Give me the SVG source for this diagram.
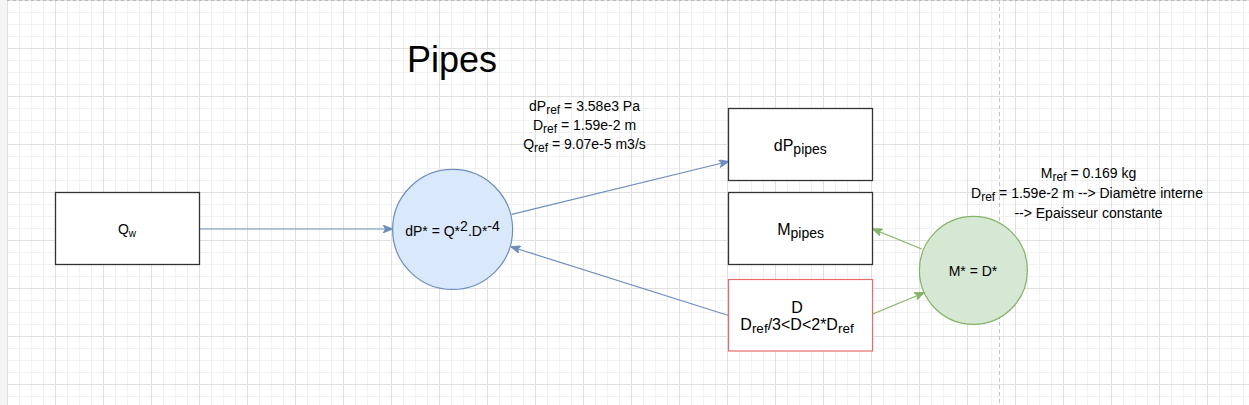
<svg xmlns="http://www.w3.org/2000/svg" width="1249" height="405" viewBox="0 0 1249 405">
  <style>
    text { font-family: "Liberation Sans", Arial, sans-serif; fill: #000; }
    .t14 { font-size: 14px; }
    .t16 { font-size: 16px; }
    .title { font-size: 36px; }
    .box { fill: #ffffff; stroke: #333333; stroke-width: 1.3; }
    .boxred { fill: #ffffff; stroke: #ea6b66; stroke-width: 1.2; }
    .cblue { fill: #dae8fc; stroke: #6c8ebf; stroke-width: 1.2; }
    .cgreen { fill: #d5e8d4; stroke: #82b366; stroke-width: 1.2; }
    .eblue { fill: none; stroke: #6c8ebf; stroke-width: 1.2; marker-end: url(#arrBlue); }
    .egreen { fill: none; stroke: #82b366; stroke-width: 1.2; marker-end: url(#arrGreen); }
  </style>
  <defs>
    <pattern id="grid" x="7" y="0" width="48" height="48" patternUnits="userSpaceOnUse">
      <rect width="48" height="48" fill="#ffffff"/>
      <path d="M12.5 0V48M24.5 0V48M36.5 0V48M0 12.5H48M0 24.5H48M0 36.5H48" stroke="#f1f1f1" stroke-width="1"/>
      <path d="M0.5 0V48M0 0.5H48" stroke="#e0e0e0" stroke-width="1"/>
    </pattern>
    <marker id="arrBlue" viewBox="0 0 10 8" refX="9.5" refY="4" markerWidth="10" markerHeight="8" orient="auto" markerUnits="userSpaceOnUse">
      <path d="M0,0 L10,4 L0,8 L2.5,4 Z" fill="#6c8ebf" stroke="#6c8ebf" stroke-width="0.8" stroke-linejoin="miter"/>
    </marker>
    <marker id="arrGreen" viewBox="0 0 10 8" refX="9.5" refY="4" markerWidth="10" markerHeight="8" orient="auto" markerUnits="userSpaceOnUse">
      <path d="M0,0 L10,4 L0,8 L2.5,4 Z" fill="#82b366" stroke="#82b366" stroke-width="0.8" stroke-linejoin="miter"/>
    </marker>
  </defs>

  <g id="background">
    <rect x="0" y="0" width="1249" height="405" fill="url(#grid)"/>
    <rect x="0" y="0" width="7" height="405" fill="#f4f5f7"/>
    <line x1="7" y1="0.5" x2="1249" y2="0.5" stroke="#b8b8b8" stroke-width="1" stroke-dasharray="3 3"/>
    <line x1="999.5" y1="0" x2="999.5" y2="405" stroke="#c4c4c4" stroke-width="1" stroke-dasharray="4 3"/>
  </g>

  <g id="title">
    <text class="title" x="452" y="72" text-anchor="middle">Pipes</text>
  </g>

  <g id="connectors">
    <path id="e-qw-dp" class="eblue" d="M199.5 229 L392.5 229"/>
    <path id="e-dp-dppipes" class="eblue" d="M511.7 214.3 L728.5 161.5"/>
    <path id="e-d-dp" class="eblue" d="M728.5 315.5 L511 246.8"/>
    <path id="e-m-mpipes" class="egreen" d="M921.7 249 L872.8 229"/>
    <path id="e-d-m" class="egreen" d="M872.8 314 L924 292.7"/>
  </g>

  <g id="label-ref-left">
    <text class="t14" x="584.5" y="110.5" text-anchor="middle">dP<tspan font-size="12" dy="3">ref</tspan><tspan dy="-3"> = 3.58e3 Pa</tspan></text>
    <text class="t14" x="584.5" y="129.8" text-anchor="middle">D<tspan font-size="12" dy="3">ref</tspan><tspan dy="-3"> = 1.59e-2 m</tspan></text>
    <text class="t14" x="584.5" y="149" text-anchor="middle">Q<tspan font-size="12" dy="3">ref</tspan><tspan dy="-3"> = 9.07e-5 m3/s</tspan></text>
  </g>

  <g id="label-ref-right">
    <text class="t14" x="1088.5" y="178.3" text-anchor="middle">M<tspan font-size="12" dy="3">ref</tspan><tspan dy="-3"> = 0.169 kg</tspan></text>
    <text class="t14" x="1087" y="197.8" text-anchor="middle">D<tspan font-size="12" dy="3">ref</tspan><tspan dy="-3"> = 1.59e-2 m --&gt; Diamètre interne</tspan></text>
    <text class="t14" x="1088.5" y="218.3" text-anchor="middle">--&gt; Epaisseur constante</text>
  </g>

  <g id="node-qw">
    <rect class="box" x="55.5" y="192.5" width="144" height="72"/>
    <text class="t14" x="127" y="233.5" text-anchor="middle">Q<tspan font-size="10" dy="3">w</tspan></text>
  </g>

  <g id="node-dpstar">
    <circle class="cblue" cx="452.6" cy="229.4" r="60"/>
    <text class="t14" x="452.5" y="235.5" text-anchor="middle">dP* = Q*<tspan font-size="14" dy="-5">2</tspan><tspan dy="5">.D*</tspan><tspan font-size="14" dy="-5">-4</tspan></text>
  </g>

  <g id="node-dppipes">
    <rect class="box" x="728.5" y="108.5" width="144" height="72"/>
    <text class="t16" x="800.3" y="151" text-anchor="middle">dP<tspan font-size="14" dy="3">pipes</tspan></text>
  </g>

  <g id="node-mpipes">
    <rect class="box" x="728.5" y="192.5" width="144" height="72"/>
    <text class="t16" x="800.6" y="234.5" text-anchor="middle">M<tspan font-size="14" dy="3">pipes</tspan></text>
  </g>

  <g id="node-d">
    <rect class="boxred" x="728.5" y="279.5" width="144" height="71.5"/>
    <text class="t16" x="797" y="312.5" text-anchor="middle">D</text>
    <text class="t16" x="797" y="330" text-anchor="middle">D<tspan font-size="13.5" dy="3">ref</tspan><tspan dy="-3">/3&lt;D&lt;2*D</tspan><tspan font-size="13.5" dy="3">ref</tspan></text>
  </g>

  <g id="node-mstar">
    <circle class="cgreen" cx="973.4" cy="270.3" r="54"/>
    <text class="t14" x="973" y="276" text-anchor="middle">M* = D*</text>
  </g>
</svg>
